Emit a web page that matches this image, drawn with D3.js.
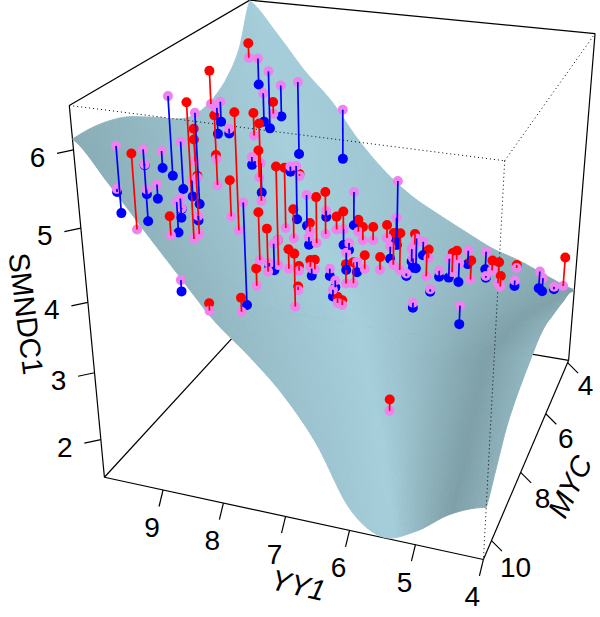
<!DOCTYPE html>
<html>
<head>
<meta charset="utf-8">
<script src="https://cdnjs.cloudflare.com/ajax/libs/d3/7.8.5/d3.min.js"></script>
<style>
  body { margin: 0; background: #fff; }
  text { font-family: "Liberation Sans", Arial, sans-serif; fill: #000; }
</style>
</head>
<body>
<svg width="600" height="617"></svg>
<script>
// fitted surface SMNDC1 ~ YY1, MYC : rows go MYC 3.9 -> 10.5, columns go YY1 4 -> 10
const surfaceZ = [
  [2.68, 2.84, 3.02, 3.16, 3.37, 3.59, 3.83, 4.17, 4.62, 5.18, 5.61, 6.13, 6.59],
  [2.83, 2.90, 2.97, 3.02, 3.17, 3.39, 3.59, 3.88, 4.26, 4.75, 5.12, 5.59, 5.99],
  [2.91, 2.92, 2.92, 2.91, 3.04, 3.27, 3.47, 3.74, 4.08, 4.54, 4.89, 5.32, 5.69],
  [3.00, 2.95, 2.88, 2.83, 2.94, 3.20, 3.42, 3.67, 3.99, 4.42, 4.76, 5.17, 5.53],
  [3.08, 3.00, 2.87, 2.77, 2.88, 3.18, 3.42, 3.67, 3.97, 4.38, 4.71, 5.11, 5.46],
  [3.16, 3.04, 2.86, 2.73, 2.85, 3.20, 3.46, 3.71, 4.00, 4.41, 4.74, 5.14, 5.48],
  [3.17, 3.02, 2.81, 2.66, 2.79, 3.20, 3.50, 3.77, 4.06, 4.48, 4.83, 5.23, 5.59],
  [3.11, 2.96, 2.72, 2.55, 2.72, 3.20, 3.54, 3.84, 4.15, 4.57, 4.95, 5.37, 5.75],
  [3.04, 2.87, 2.61, 2.43, 2.63, 3.17, 3.57, 3.90, 4.21, 4.66, 5.06, 5.50, 5.90],
  [2.95, 2.77, 2.48, 2.30, 2.52, 3.14, 3.58, 3.94, 4.27, 4.73, 5.16, 5.62, 6.04],
  [2.80, 2.61, 2.29, 2.11, 2.36, 3.04, 3.54, 3.93, 4.27, 4.74, 5.20, 5.69, 6.13],
  [2.51, 2.32, 1.98, 1.79, 2.08, 2.85, 3.40, 3.83, 4.19, 4.69, 5.19, 5.70, 6.18],
  [2.23, 2.03, 1.67, 1.48, 1.80, 2.65, 3.26, 3.71, 4.10, 4.62, 5.15, 5.69, 6.19]
];

const yy1 = [9.72,9.42,9.05,9.59,9.45,9.25,9.52,10.79,9.23,9.61,8.62,8.80,8.99,9.00,8.91,10.04,9.11,9.13,8.61,9.33,8.75,9.97,8.98,9.32,9.89,9.59,9.87,8.40,8.56,8.67,8.10,8.47,
  7.81,7.83,8.02,9.03,9.82,9.69,9.50,9.28,9.47,9.24,9.05,8.35,9.31,8.60,8.90,9.16,7.85,8.18,8.70,8.64,8.53,7.86,7.93,8.09,8.10,7.73,8.03,7.34,7.45,7.63,8.32,7.98,
  7.94,7.81,7.82,7.58,7.52,7.56,7.41,7.24,7.16,7.01,6.95,8.02,7.76,7.69,7.83,7.50,7.11,7.04,7.69,7.50,7.43,7.23,7.08,7.26,6.91,7.10,6.84,7.38,7.11,7.29,6.80,6.68,
  6.57,6.27,6.68,6.60,6.69,6.69,6.39,6.30,6.57,6.16,6.16,6.09,5.97,5.98,5.92,5.63,5.85,5.65,5.57,5.43,5.37,5.18,5.12,4.93,4.99,4.63,4.53,4.29,4.19,5.91];
const myc = [9.78,10.42,10.62,9.20,9.46,9.85,8.74,5.77,9.55,7.87,9.70,10.08,9.43,9.28,9.44,6.35,8.61,8.36,9.53,7.98,9.23,5.84,7.96,7.20,5.63,6.00,5.83,8.55,8.45,7.70,10.43,10.53,
  9.96,9.30,8.68,6.02,4.47,4.37,4.37,4.36,4.72,4.85,4.12,3.73,5.59,7.11,6.43,6.09,8.35,7.14,5.50,5.38,5.52,8.76,8.53,7.92,7.71,8.22,7.18,9.01,8.58,8.04,5.76,6.55,
  6.72,6.71,6.23,7.66,7.62,7.66,7.22,7.45,7.80,8.02,7.97,5.62,5.84,5.69,4.68,5.45,7.30,7.13,5.68,5.96,6.32,6.36,6.41,5.37,6.10,5.08,5.75,5.57,4.47,3.80,5.69,5.71,
  5.68,6.31,4.97,5.17,4.64,4.75,4.93,5.39,4.63,5.05,5.63,4.64,4.90,4.56,4.61,5.65,4.25,4.86,4.07,4.64,4.44,4.79,4.88,4.59,4.18,3.89,4.10,4.32,3.97,8.82];
const fitted = [5.94,5.61,5.20,5.75,5.64,5.45,5.61,5.49,5.43,5.49,4.83,4.98,5.19,5.19,5.12,5.46,5.22,5.18,4.84,5.28,4.97,5.47,4.98,5.09,5.46,5.18,5.42,4.60,4.74,4.69,4.20,4.59,
  4.05,4.16,4.27,4.73,5.86,5.84,5.66,5.46,5.41,5.15,5.48,5.02,5.00,4.54,4.65,4.83,4.11,4.20,4.57,4.55,4.45,4.16,4.19,4.24,4.22,4.03,4.08,3.83,3.89,3.95,4.25,3.98,
  3.96,3.88,3.86,3.88,3.84,3.86,3.72,3.65,3.65,3.56,3.52,4.00,3.81,3.77,4.03,3.68,3.57,3.52,3.77,3.67,3.65,3.55,3.48,3.55,3.38,3.51,3.63,3.60,3.64,4.01,3.33,3.27,
  3.22,3.03,3.35,3.28,3.41,3.35,3.23,3.11,3.37,3.10,3.01,3.16,3.05,3.13,3.10,2.83,3.19,2.96,3.15,2.97,3.00,2.94,2.93,2.95,3.00,2.89,2.87,2.84,2.74,2.46];
const observed = [5.06,5.57,6.15,4.78,5.63,5.39,5.38,4.26,5.24,4.82,6.58,5.23,4.78,4.93,5.11,4.08,5.00,5.21,6.21,5.58,4.91,5.96,5.94,5.15,5.16,5.11,5.03,6.19,5.24,3.16,4.30,4.44,
  4.24,4.40,4.94,4.28,6.08,5.44,4.77,4.98,4.97,5.33,4.34,4.23,5.34,5.65,5.05,4.71,5.48,5.08,4.49,3.71,4.48,4.76,4.14,3.85,4.22,4.31,4.51,4.57,3.94,4.02,3.77,4.11,
  3.84,4.57,4.50,3.98,3.98,3.75,3.61,3.55,3.55,3.65,3.59,3.90,4.01,4.05,3.49,3.87,3.86,3.84,3.52,3.56,3.38,3.39,3.69,3.76,3.58,3.72,3.44,3.81,3.27,2.94,3.83,3.85,
  3.18,2.95,3.15,3.13,2.92,3.52,3.37,3.50,3.15,3.00,2.97,2.85,3.36,3.28,2.79,2.53,2.97,3.27,2.86,2.94,3.16,3.28,3.10,2.86,3.05,2.61,2.65,2.80,3.21,2.63];

const yy1Ticks = [4, 5, 6, 7, 8, 9];
const mycTicks = [4, 6, 8, 10];
const smndc1Ticks = [2, 3, 4, 5, 6];

const svg = d3.select("svg");

const xScale = d3.scaleLinear().domain([4, 10]).range([0, 1]);
const yScale = d3.scaleLinear().domain([3.9, 10.5]).range([0, 1]);
const zScale = d3.scaleLinear().domain([1.47, 6.6]).range([0, 1]);
const zAxisScale = d3.scaleLinear().domain([1.415, 6.545]).range([0, 1]);

// box corners on the page, the perspective matrix is fitted to them
const corners = [[1,1,0,104,477],[1,1,1,69,106],[0,1,0,483,559],[0,1,1,506,161],
                 [0,0,0,569,361],[0,0,1,594,33],[1,0,0,260,308],[1,0,1,250,0]];

function solve(A, b) {
  const n = b.length;
  A = A.map((r, i) => [...r, b[i]]);
  for (let i = 0; i < n; i++) {
    let m = i;
    for (let k = i; k < n; k++) if (Math.abs(A[k][i]) > Math.abs(A[m][i])) m = k;
    [A[i], A[m]] = [A[m], A[i]];
    for (let k = 0; k < n; k++) if (k != i) {
      const f = A[k][i] / A[i][i];
      for (let j = i; j <= n; j++) A[k][j] -= f * A[i][j];
    }
  }
  return A.map((r, i) => r[n] / r[i]);
}

const rows = [], rhs = [];
corners.forEach(([u, v, w, sx, sy]) => {
  rows.push([u, v, w, 1, 0, 0, 0, 0, -sx * u, -sx * v, -sx * w]); rhs.push(sx);
  rows.push([0, 0, 0, 0, u, v, w, 1, -sy * u, -sy * v, -sy * w]); rhs.push(sy);
});
const p = solve(
  d3.range(11).map(i => d3.range(11).map(j => d3.sum(rows, r => r[i] * r[j]))),
  d3.range(11).map(i => d3.sum(rows, (r, k) => r[i] * rhs[k]))
);
const depth = (u, v, w) => p[8] * u + p[9] * v + p[10] * w + 1;
const project = (u, v, w) => {
  const h = depth(u, v, w);
  return [(p[0] * u + p[1] * v + p[2] * w + p[3]) / h, (p[4] * u + p[5] * v + p[6] * w + p[7]) / h];
};
const at = (x, y, z) => project(xScale(x), yScale(y), zScale(z));

// catmull-rom through the surface table so the facets come out smooth
const cr = (a, b, c, d, t) => 0.5 * (2 * b + (c - a) * t + (2 * a - 5 * b + 4 * c - d) * t * t + (3 * b - a - 3 * c + d) * t * t * t);
const N = surfaceZ.length - 1;
function surf(u, v) {
  const fu = Math.min(u * N, N - 1e-9), fv = Math.min(v * N, N - 1e-9);
  const i = Math.floor(fu), j = Math.floor(fv);
  const g = (a, b) => zScale(surfaceZ[Math.max(0, Math.min(N, b))][Math.max(0, Math.min(N, a))]);
  const col = k => cr(g(i - 1, k), g(i, k), g(i + 1, k), g(i + 2, k), fu - i);
  return cr(col(j - 1), col(j), col(j + 1), col(j + 2), fv - j);
}

const line = d3.line();
const drawEdge = (a, b, dotted) => svg.append("path")
  .attr("d", line([project(...a), project(...b)]))
  .attr("fill", "none").attr("stroke", "#000")
  .attr("stroke-width", dotted ? 1 : 1.2)
  .attr("stroke-dasharray", dotted ? "1 3" : null);

// back of the box goes under the surface
drawEdge([1,1,0],[1,0,0]); drawEdge([1,0,0],[0,0,0]); drawEdge([1,0,1],[0,0,1]);
drawEdge([1,1,1],[1,0,1]); drawEdge([0,0,1],[0,0,0]); drawEdge([1,1,1],[1,1,0]);
drawEdge([1,1,0],[0,1,0]); drawEdge([0,1,0],[0,0,0]);

// shading: a bright band up the middle of the sheet, a dark one near the right side
const brightX = d3.scaleLinear().domain([0, 60, 200, 330, 480, 540]).range([255, 270, 300, 360, 387, 395]);
const darkX = d3.scaleLinear().domain([290, 323, 357, 513]).range([570, 517, 487, 453]);
const shade = d3.scaleLinear().domain([0, 1]).range(["#78989f", "#a6cfdc"]).clamp(true);
const sheetLight = (sx, sy) => {
  const b = brightX(sy), k = darkX(sy);
  if (sx < b) return Math.max(0.25, 1 - (b - sx) / 300);
  if (sx < k) return 1 - 0.92 * (sx - b) / (k - b);
  return Math.min(0.5, 0.08 + (sx - k) / 100);
};
const M = 80;
const facets = [];
const light = [-0.42, 0.1, 0.9];
for (let j = 0; j < M; j++) for (let i = 0; i < M; i++) {
  const u0 = i / M, u1 = (i + 1) / M, v0 = j / M, v1 = (j + 1) / M;
  const w00 = surf(u0, v0), w10 = surf(u1, v0), w11 = surf(u1, v1), w01 = surf(u0, v1);
  const du = (w10 + w11 - w00 - w01) / 2 * M, dv = (w01 + w11 - w00 - w10) / 2 * M;
  const lit = (-du * light[0] - dv * light[1] + light[2]) / Math.hypot(du, dv, 1);
  const pts = [project(u0, v0, w00), project(u1, v0, w10), project(u1, v1, w11), project(u0, v1, w01)];
  const c = project((u0 + u1) / 2, (v0 + v1) / 2, (w00 + w11) / 2);
  facets.push({
    pts,
    d: depth((u0 + u1) / 2, (v0 + v1) / 2, (w00 + w11) / 2),
    t: 0.88 * sheetLight(c[0], c[1]) + 0.12 * lit
  });
}
facets.sort((a, b) => b.d - a.d);
svg.append("g").selectAll("path").data(facets).enter().append("path")
  .attr("d", d => line(d.pts) + "Z")
  .attr("fill", d => shade(d.t))
  .attr("stroke", d => shade(d.t))
  .attr("stroke-width", 0.9);

// dotted front edges lie over the surface
drawEdge([1,1,1],[0,1,1], true); drawEdge([0,1,1],[0,0,1], true); drawEdge([0,1,1],[0,1,0], true);

// ticks
yy1Ticks.forEach(t => {
  const b = project(xScale(t), 1, 0);
  svg.append("line").attr("x1", b[0]).attr("y1", b[1]).attr("x2", b[0] - 4).attr("y2", b[1] + 16.5).attr("stroke", "#000").attr("stroke-width", 1.2);
  svg.append("text").attr("x", b[0] - 11).attr("y", b[1] + 47).attr("text-anchor", "middle").attr("font-size", 28).text(t);
});
mycTicks.forEach(t => {
  const c = project(0, yScale(t), 0);
  svg.append("line").attr("x1", c[0]).attr("y1", c[1]).attr("x2", c[0] + 10.5).attr("y2", c[1] + 10.5).attr("stroke", "#000").attr("stroke-width", 1.2);
  svg.append("text").attr("x", c[0] + 18 + (t - 4)).attr("y", c[1] + 32.5 + (t - 4) * 0.67).attr("text-anchor", "middle").attr("font-size", 28).text(t);
});
smndc1Ticks.forEach(t => {
  const b = project(1, 1, zAxisScale(t));
  svg.append("line").attr("x1", b[0]).attr("y1", b[1]).attr("x2", b[0] - 16.5).attr("y2", b[1] + 3.5).attr("stroke", "#000").attr("stroke-width", 1.2);
  svg.append("text").attr("x", b[0] - 36).attr("y", b[1] + 17).attr("text-anchor", "middle").attr("font-size", 28).text(t);
});

const title = (txt, x, y, angle, italic) => svg.append("text")
  .attr("transform", `translate(${x},${y}) rotate(${angle})`)
  .attr("text-anchor", "middle").attr("font-size", 29)
  .attr("font-style", italic ? "italic" : null).text(txt);
title("YY1", 296, 595, 13, true);
title("MYC", 579, 491, -64, true);
title("SMNDC1", 16, 315, 83, false);

// residuals: observed dots, then fitted dots, then the connecting lines
const idx = d3.range(yy1.length);
const colour = i => observed[i] >= fitted[i] ? "#ff0000" : "#0000ff";
svg.append("g").selectAll("circle").data(idx).enter().append("circle")
  .attr("cx", i => at(yy1[i], myc[i], observed[i])[0])
  .attr("cy", i => at(yy1[i], myc[i], observed[i])[1])
  .attr("r", 5).attr("fill", colour);
svg.append("g").selectAll("circle").data(idx).enter().append("circle")
  .attr("cx", i => at(yy1[i], myc[i], fitted[i])[0])
  .attr("cy", i => at(yy1[i], myc[i], fitted[i])[1])
  .attr("r", 5).attr("fill", "#ee82ee");
svg.append("g").selectAll("path").data(idx).enter().append("path")
  .attr("d", i => line([at(yy1[i], myc[i], observed[i]), at(yy1[i], myc[i], fitted[i])]))
  .attr("stroke", colour).attr("stroke-width", 1.7).attr("fill", "none");
</script>
</body>
</html>
